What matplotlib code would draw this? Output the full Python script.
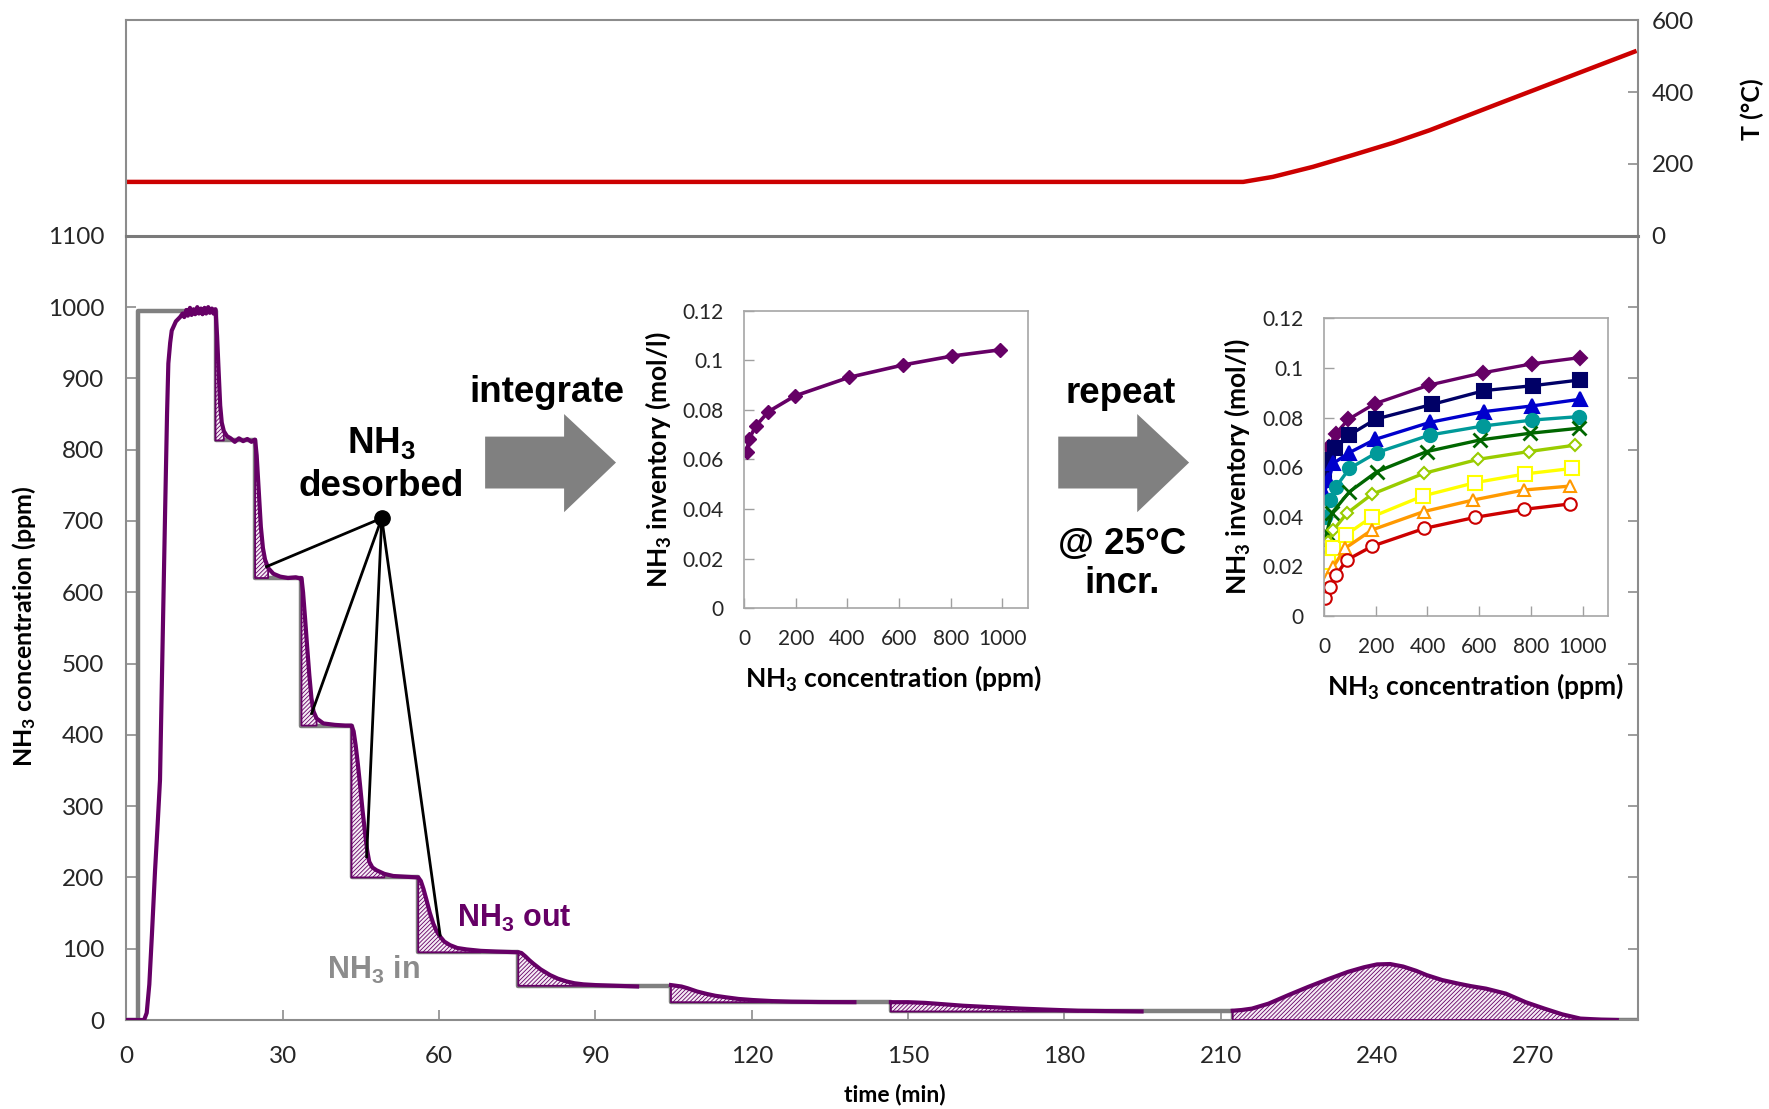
import numpy as np
import matplotlib
matplotlib.use("Agg")
import matplotlib.pyplot as plt
from matplotlib.patches import Polygon

plt.rcParams["font.family"] = ["Lato", "DejaVu Sans"]
plt.rcParams["mathtext.default"] = "regular"
plt.rcParams["hatch.linewidth"] = 0.6

# NH3 feed program: start time of each step (min) and inlet level (ppm)
step_times = [0, 2.2, 17.1, 24.7, 33.6, 43.2, 56.0, 75.2, 104.5, 146.7, 212.3]
feed_ppm = [0, 995, 813, 620, 413, 200, 95, 48, 25, 12, 0]
t_end = 290

# outlet NH3 (time min, ppm)
out_load = [(0, 0), (3.4, 0), (3.9, 10), (4.4, 50), (4.9, 120), (5.5, 210), (6.0, 275), (6.45, 337),
            (6.9, 510), (7.42, 710), (7.8, 850), (8.05, 921), (8.4, 950), (8.7, 967), (9.5, 980),
            (10.3, 986), (10.8, 991), (11.1, 986), (11.5, 996), (11.8, 988), (12.2, 999), (12.5, 989),
            (12.9, 997), (13.2, 990), (13.6, 1000), (13.9, 991), (14.3, 998), (14.6, 990), (15.0, 999),
            (15.3, 991), (15.7, 1000), (16.0, 992), (16.4, 998), (16.7, 991), (17.0, 997)]
out_813 = [(17.1, 997), (17.4, 960), (17.7, 910), (18.0, 862), (18.3, 838), (18.7, 826), (19.3, 819),
           (20.0, 816), (20.8, 811), (21.6, 816), (22.4, 812), (23.2, 815), (24.0, 811), (24.6, 814)]
out_620 = [(24.7, 814), (25.0, 792), (25.4, 742), (25.8, 692), (26.2, 662), (26.6, 646), (27.2, 634),
           (28.2, 626), (29.5, 622), (31.0, 620), (32.5, 621), (33.5, 619)]
out_413 = [(33.6, 620), (33.9, 600), (34.3, 562), (34.7, 522), (35.1, 484), (35.5, 452), (35.9, 433),
           (36.5, 423), (37.8, 416), (40.0, 414), (42.0, 413), (43.1, 413)]
out_200 = [(43.2, 413), (43.6, 405), (44.0, 385), (44.4, 360), (44.8, 332), (45.3, 295), (45.8, 262),
           (46.2, 238), (46.6, 222), (47.2, 214), (48.0, 210), (49.5, 205), (51.2, 202), (53.5, 201),
           (55.9, 200)]
out_95 = [(56.0, 200), (56.5, 195), (57.0, 184), (57.6, 168), (58.2, 151), (58.9, 135), (59.5, 125),
          (60.2, 117), (61.0, 110), (62.1, 105), (63.5, 101), (65.3, 99), (68.0, 97), (71.0, 96),
          (75.1, 95)]
out_48 = [(75.2, 95), (75.8, 94), (76.6, 89), (77.3, 84), (78.1, 79), (79.5, 71), (81.3, 63), (82.8, 58),
          (84.5, 54), (86.0, 51.5), (87.7, 50), (90.0, 49), (94.0, 48), (98.0, 47)]
out_25 = [(104.5, 49), (105.5, 48), (106.5, 47), (107.7, 44.5), (109.5, 40), (111.4, 36.5), (113.0, 34),
          (115.1, 31.8), (117.5, 29.5), (120.2, 28), (124.0, 26.5), (127.6, 25.7), (133.0, 25.2),
          (139.7, 25)]
out_12 = [(146.7, 25), (148.0, 25), (150.0, 25), (153.3, 24), (157.0, 22), (160.6, 20), (166.0, 18),
          (171.6, 16), (177.0, 14.5), (182.7, 13), (188.0, 12.5), (194.8, 12)]
out_tpd = [(212.3, 13), (214.0, 14), (216.0, 16), (219.2, 23), (223.0, 35), (226.8, 46.5), (230.5, 57),
           (234.4, 67.5), (237.5, 74), (240.0, 78), (242.5, 78.5), (245.0, 75), (247.5, 69), (249.5, 63),
           (252.5, 56), (255.6, 51), (258.0, 47.5), (260.9, 44), (264.7, 37), (268.5, 25), (272.1, 16),
           (275.5, 8), (279.0, 2), (283.0, 0.5), (286.0, 0)]

# bed temperature
temp_time = [0, 214.3, 220.0, 227.7, 235.4, 243.1, 250.1, 263.5, 289.8]
temp_C = [150, 150, 164, 192, 225, 259, 294, 369, 515]

# adsorption isotherms, NH3 inventory (mol/l) vs NH3 concentration (ppm)
conc_1 = [9, 19, 45, 94, 196, 406, 616, 806, 991]
inv_1 = [0.0632, 0.0683, 0.0735, 0.0793, 0.0856, 0.0931, 0.0981, 0.1017, 0.1042]
conc_2 = [0, 17, 43, 98, 200, 417, 620, 810, 991]
inv_2 = [0.0575, 0.0629, 0.0676, 0.0730, 0.0794, 0.0853, 0.0909, 0.0929, 0.0952]
conc_3 = [0, 17, 36, 98, 197, 410, 617, 804, 991]
inv_3 = [0.0495, 0.0548, 0.0616, 0.0659, 0.0712, 0.0781, 0.0824, 0.0847, 0.0874]
conc_4 = [4, 23, 46, 98, 204, 410, 614, 804, 985]
inv_4 = [0.0401, 0.0468, 0.0521, 0.0595, 0.0659, 0.0730, 0.0766, 0.0790, 0.0804]
conc_5 = [0, 10, 30, 98, 204, 397, 604, 797, 985]
inv_5 = [0.0290, 0.0335, 0.0415, 0.0501, 0.0582, 0.0663, 0.0710, 0.0737, 0.0757]
conc_6 = [0, 17, 36, 88, 185, 385, 597, 791, 972]
inv_6 = [0.0233, 0.0300, 0.0347, 0.0414, 0.0491, 0.0575, 0.0632, 0.0663, 0.0689]
conc_7 = [0, 17, 34, 84, 185, 382, 585, 778, 959]
inv_7 = [0.0169, 0.0219, 0.0273, 0.0327, 0.0400, 0.0484, 0.0538, 0.0573, 0.0595]
conc_8 = [4, 17, 36, 81, 185, 385, 578, 772, 952]
inv_8 = [0.0118, 0.0159, 0.0199, 0.0273, 0.0347, 0.0421, 0.0468, 0.0508, 0.0524]
conc_9 = [4, 23, 46, 88, 187, 387, 585, 772, 952]
inv_9 = [0.0071, 0.0116, 0.0165, 0.0226, 0.0282, 0.0353, 0.0398, 0.0430, 0.0452]

PURPLE = "#660066"
GRAY = "#808080"
SPINE = "#8c8c8c"
TXT = "#262626"
ANNOT = ["Liberation Sans", "DejaVu Sans"]

fig = plt.figure(figsize=(17.69, 11.09), dpi=100)
W, H = 1568.0, 983.0


def fx(x):
    return x / W


def fy(y):
    return 1 - y / H


ax = fig.add_axes([0.07145, 0.08025, 0.8543, 0.7071])
ax_t = fig.add_axes([0.07145, 0.7874, 0.8543, 0.1943], sharex=ax)

# ---- temperature panel
ax_t.plot(temp_time, temp_C, color="#cc0000", lw=3.2, solid_capstyle="butt")
ax_t.set_ylim(0, 600)
ax_t.set_yticks([0, 200, 400, 600])
ax_t.yaxis.tick_right()
ax_t.tick_params(axis="y", direction="in", length=7, width=1.2, color=SPINE, pad=10,
                 labelsize=17.5, labelcolor=TXT)
ax_t.tick_params(axis="x", bottom=False, labelbottom=False)
for s in ax_t.spines.values():
    s.set_color(SPINE)
    s.set_linewidth(1.5)
ax_t.spines["bottom"].set_color("#7a7a7a")
ax_t.spines["bottom"].set_linewidth(2.2)
fig.text(fx(1553), fy(97), "T (°C)", rotation=90, ha="center", va="center",
         fontsize=18, fontweight="bold", color="black")

# ---- NH3 step response
t_in = step_times + [t_end]
c_in = feed_ppm + [0]
ax.step(t_in, c_in, where="post", color=GRAY, lw=3.2, zorder=2)


def feed_at(t):
    idx = np.searchsorted(step_times, t, side="right") - 1
    return np.asarray(feed_ppm, float)[idx]


early = out_load + out_813 + out_620 + out_413 + out_200 + out_95 + out_48
for seg in [early, out_25, out_12, out_tpd]:
    t, c = np.array(seg, float).T
    base = feed_at(t)
    ax.fill_between(t, c, base, where=c > base * 1.01 + 0.5, interpolate=False,
                    facecolor="#f6ecf6", edgecolor=PURPLE, hatch="////////", lw=1.3, zorder=3)
    ax.plot(t, c, color=PURPLE, lw=3.0, zorder=4, solid_joinstyle="round")

ax.set_xlim(0, t_end)
ax.set_ylim(0, 1100)
ax.set_xticks(np.arange(0, 271, 30))
ax.set_yticks(np.arange(0, 1101, 100))
ax.tick_params(direction="in", length=7, width=1.2, color=SPINE, labelsize=17.5, labelcolor=TXT)
ax.tick_params(axis="y", right=True, pad=16)
ax.tick_params(axis="x", pad=19)
for s in ax.spines.values():
    s.set_color(SPINE)
    s.set_linewidth(1.5)
ax.spines["top"].set_visible(False)
fig.text(fx(793), fy(970), "time (min)", fontsize=16.5, fontweight="bold", ha="center", va="center")
fig.text(fx(21), fy(555), "NH$_3$ concentration (ppm)", fontsize=18, fontweight="bold",
         rotation=90, ha="center", va="center")

# pointer lines to the desorbed areas
hub = (49.0, 704)
targets_t = [26.9, 35.55, 46.1, 60.2]
targets_c = [636, 430, 229, 119]
for tt, cc in zip(targets_t, targets_c):
    ax.plot([hub[0], tt], [hub[1], cc], color="black", lw=2.0, zorder=6)
ax.plot(*hub, "o", color="black", ms=11, zorder=7)

ax.text(63.4, 142, "NH$_3$ out", color=PURPLE, fontsize=22, fontweight="bold", family=ANNOT,
        ha="left", va="center", zorder=8)
ax.text(38.4, 70, "NH$_3$ in", color="#8c8c8c", fontsize=22, fontweight="bold", family=ANNOT,
        ha="left", va="center", zorder=8)

fig.text(fx(338), fy(393), "NH$_3$", fontsize=26.5, fontweight="bold", family=ANNOT,
         ha="center", va="center")
fig.text(fx(338), fy(431), "desorbed", fontsize=26.5, fontweight="bold", family=ANNOT,
         ha="center", va="center")
fig.text(fx(485), fy(348), "integrate", fontsize=26.5, fontweight="bold", family=ANNOT,
         ha="center", va="center")
fig.text(fx(993), fy(349), "repeat", fontsize=26.5, fontweight="bold", family=ANNOT,
         ha="center", va="center")
fig.text(fx(995), fy(483), "@ 25°C", fontsize=26.5, fontweight="bold", family=ANNOT,
         ha="center", va="center")
fig.text(fx(995), fy(517), "incr.", fontsize=26.5, fontweight="bold", family=ANNOT,
         ha="center", va="center")

# block arrows
arrow_shape = [(0, 387), (70, 387), (70, 367), (116, 410), (70, 454), (70, 433), (0, 433)]
for x0 in [430, 938]:
    pts = [(fx(x0 + dx), fy(yy)) for dx, yy in arrow_shape]
    fig.patches.append(Polygon(pts, closed=True, transform=fig.transFigure,
                               facecolor="#808080", edgecolor="none"))


def style_inset(a, xl, yl):
    a.set_xlim(0, 1100)
    a.set_ylim(0, 0.12)
    a.set_xticks(np.arange(0, 1001, 200))
    a.set_yticks(np.arange(0, 0.121, 0.02))
    a.set_yticklabels(["0", "0.02", "0.04", "0.06", "0.08", "0.1", "0.12"])
    a.tick_params(direction="in", length=7, width=1.0, color="#a0a0a0", labelsize=15,
                  labelcolor=TXT)
    a.tick_params(axis="y", pad=15)
    a.tick_params(axis="x", pad=15)
    for s in a.spines.values():
        s.set_color("#a6a6a6")
        s.set_linewidth(1.2)
    a.set_xlabel("NH$_3$ concentration (ppm)", fontsize=19, fontweight="bold", va="center")
    a.set_ylabel("NH$_3$ inventory (mol/l)", fontsize=19, fontweight="bold", va="center")
    a.xaxis.set_label_coords(*xl)
    a.yaxis.set_label_coords(*yl)


ins1 = fig.add_axes([0.4207, 0.4515, 0.1605, 0.2684])
ins1.plot(conc_1, inv_1, color=PURPLE, lw=2.6, marker="D", ms=7, mec=PURPLE, mfc=PURPLE)
style_inset(ins1, (0.525, -0.235), (-0.303, 0.498))

ins2 = fig.add_axes([0.7485, 0.4445, 0.1607, 0.2684])
series = [
    (conc_1, inv_1, "#660066", "D", 6.8, True),
    (conc_2, inv_2, "#000066", "s", 10.5, True),
    (conc_3, inv_3, "#0000cc", "^", 9.5, True),
    (conc_4, inv_4, "#009999", "o", 9.5, True),
    (conc_5, inv_5, "#006600", "x", 9.5, True),
    (conc_6, inv_6, "#99cc00", "D", 6.0, False),
    (conc_7, inv_7, "#ffff00", "s", 10.0, False),
    (conc_8, inv_8, "#ff9900", "^", 9.0, False),
    (conc_9, inv_9, "#cc0000", "o", 9.0, False),
]
for cx, cy, col, mk, ms, filled in series:
    ins2.plot(cx, cy, color=col, lw=2.4, marker=mk, ms=ms, mec=col,
              mfc=col if filled else "white", mew=2.0 if mk == "x" else 1.5)
style_inset(ins2, (0.531, -0.237), (-0.307, 0.50))

fig.savefig("out.png", dpi=100)
